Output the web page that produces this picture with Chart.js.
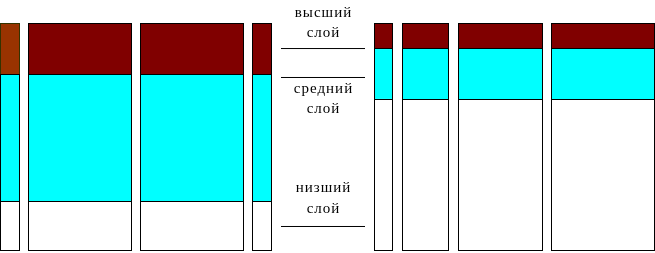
<!DOCTYPE html>
<html>
<head>
<meta charset="utf-8">
<script src="https://cdn.jsdelivr.net/npm/chart.js@4"></script>
<style>
  html, body { margin: 0; padding: 0; background: #fff; }
  #wrap { width: 655px; height: 253px; }
</style>
</head>
<body>
<div id="wrap"><canvas id="layers" width="655" height="253"></canvas></div>
<script>
// bar edges (width units), left group = first 4 bars, right group = last 4
var barLeft  = [0, 28, 140, 252, 374, 402, 458, 551];
var barRight = [20, 132, 244, 272, 393, 449, 543, 655];
var barGroup = [0, 0, 0, 0, 1, 1, 1, 1];

// layer thickness, bottom -> top, in % of bar height
var leftLayers  = [21.9, 55.7, 22.4];
var rightLayers = [66.7, 22.3, 11.0];
var layerColors = ["#ffffff", "#00ffff", "#800000"];
var firstTopColor = "#993300";

// indicator lines between the groups
var markerFrom = 281;
var markerTo = 365;
var markerLevels = [88.8, 76.1, 10.75];

// captions (two lines each) and their baselines
var captions = [["высший", "слой"], ["средний", "слой"], ["низший", "слой"]];
var captionLevels = [[102.6, 93.9], [69.5, 60.5], [25.7, 16.7]];
var captionX = 323;

var datasets = [];

for (let i = 0; i < barLeft.length; i++) {
    var layers = barGroup[i] == 0 ? leftLayers : rightLayers;
    var base = 0;
    for (let j = 0; j < layers.length; j++) {
        var layerTop = base + layers[j];
        var color = layerColors[j];
        var edge = "#000000";
        if (i == 0 && j == 2) {
            color = firstTopColor;
            edge = "#333300";
        }
        datasets.push({
            type: "bar",
            data: [{x: (barLeft[i] + barRight[i]) / 2, y: [base, layerTop]}],
            bar: i,
            grouped: false,
            backgroundColor: color,
            borderColor: edge,
            borderWidth: 1,
            borderSkipped: j == 0 ? false : "bottom",
            inflateAmount: 0,
            barThickness: barRight[i] - barLeft[i]
        });
        base = layerTop;
    }
}

for (let k = 0; k < markerLevels.length; k++) {
    datasets.push({
        type: "line",
        data: [{x: markerFrom, y: markerLevels[k]}, {x: markerTo, y: markerLevels[k]}],
        fill: false,
        borderColor: "#000000",
        borderWidth: 1,
        pointRadius: 0
    });
}

var captionPlugin = {
    id: "captions",
    afterDatasetsDraw: function(chart) {
        var ctx = chart.ctx;
        var xs = chart.scales.x;
        var ys = chart.scales.y;
        ctx.save();
        ctx.fillStyle = "#000000";
        ctx.font = "15px 'Liberation Serif', 'DejaVu Serif', serif";
        ctx.letterSpacing = "1px";
        ctx.textAlign = "center";
        ctx.textBaseline = "alphabetic";
        for (let i = 0; i < captions.length; i++) {
            for (let j = 0; j < captions[i].length; j++) {
                ctx.fillText(captions[i][j], xs.getPixelForValue(captionX) + 0.5, ys.getPixelForValue(captionLevels[i][j]));
            }
        }
        ctx.restore();
    }
};

var layerChart = new Chart(document.getElementById("layers").getContext("2d"), {
    type: "bar",
    data: { datasets: datasets },
    options: {
        responsive: false,
        animation: false,
        events: [],
        layout: { padding: 0, autoPadding: false },
        plugins: {
            legend: { display: false },
            tooltip: { enabled: false }
        },
        scales: {
            x: { type: "linear", display: false, offset: false, min: 0, max: 655 },
            y: { type: "linear", display: false, stacked: false, min: -0.877, max: 110.088 }
        }
    },
    plugins: [captionPlugin]
});

// bar widths in pixels taken from the x scale
var xs = layerChart.scales.x;
layerChart.data.datasets.forEach(function(ds) {
    if (ds.type == "bar") {
        ds.barThickness = xs.getPixelForValue(barRight[ds.bar]) - xs.getPixelForValue(barLeft[ds.bar]);
    }
});
layerChart.update();
</script>
</body>
</html>
